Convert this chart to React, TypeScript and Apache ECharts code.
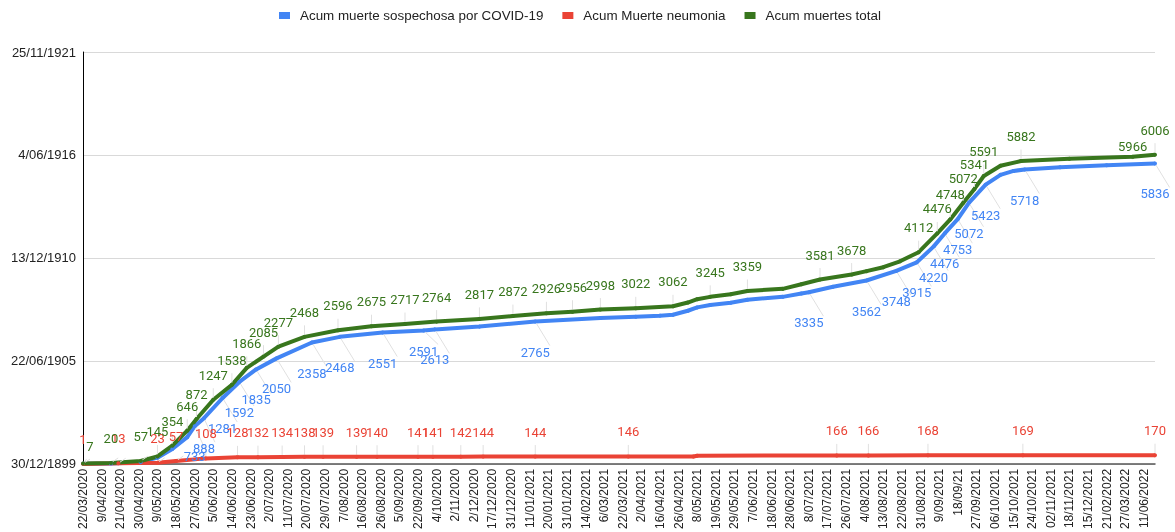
import React, { useEffect, useRef } from 'react';
import * as echarts from 'echarts';

// X axis category labels (shown at integer positions 0..57)
const xLabels = [
  '22/03/2020', '9/04/2020', '21/04/2020', '30/04/2020', '9/05/2020', '18/05/2020', '27/05/2020',
  '5/06/2020', '14/06/2020', '23/06/2020', '2/07/2020', '11/07/2020', '20/07/2020', '29/07/2020',
  '7/08/2020', '16/08/2020', '26/08/2020', '5/09/2020', '22/09/2020', '4/10/2020', '2/11/2020',
  '2/12/2020', '17/12/2020', '31/12/2020', '11/01/2021', '20/01/2021', '31/01/2021', '14/02/2021',
  '6/03/2021', '22/03/2021', '2/04/2021', '16/04/2021', '26/04/2021', '8/05/2021', '19/05/2021',
  '29/05/2021', '7/06/2021', '18/06/2021', '28/06/2021', '8/07/2021', '17/07/2021', '26/07/2021',
  '4/08/2021', '13/08/2021', '22/08/2021', '31/08/2021', '9/09/2021', '18/09/21', '27/09/2021',
  '06/10/2021', '15/10/2021', '24/10/2021', '02/11/2021', '18/11/2021', '15/12/2021', '21/02/2022',
  '27/03/2022', '11/06/2022',
];

// Y axis ticks (spreadsheet serial values shown as dates)
const yTicks = [0, 2000, 4000, 6000, 8000];
const yLabels = ['30/12/1899', '22/06/1905', '13/12/1910', '4/06/1916', '25/11/1921'];

const seriesNames = ['Acum muerte sospechosa por COVID-19', 'Acum Muerte neumonia', 'Acum muertes total'];

// Acum muerte sospechosa por COVID-19
const covidPos = [0, 1.5, 3.1, 4.0, 4.8, 5.6, 6.0, 6.5, 7.5, 8.4, 9.3, 10.4, 12.3, 13.8, 16.1, 18.3, 18.9, 21.3, 24.3, 27.8, 29.7, 31.0, 31.7, 32.5, 33.0, 33.7, 34.8, 35.7, 37.6, 38.6, 39.0, 40.3, 42.1, 43.7, 44.8, 45.7, 46.3, 47.0, 47.6, 48.5, 49.3, 50.0, 50.6, 52.5, 55.0, 57.6];
const covidVals = [6, 8, 35, 122, 290, 520, 733, 888, 1281, 1592, 1835, 2050, 2358, 2468, 2551, 2591, 2613, 2667, 2765, 2835, 2860, 2880, 2898, 2975, 3040, 3085, 3130, 3190, 3245, 3310, 3335, 3440, 3562, 3748, 3915, 4220, 4476, 4753, 5072, 5423, 5615, 5690, 5718, 5760, 5800, 5836];
const covidLabeled = [0, 0, 0, 0, 0, 0, 1, 1, 1, 1, 1, 1, 1, 1, 1, 1, 1, 0, 1, 0, 0, 0, 0, 0, 0, 0, 0, 0, 0, 0, 1, 0, 1, 1, 1, 1, 1, 1, 1, 1, 0, 0, 1, 0, 0, 1];

// Acum Muerte neumonia
const neumoPos = [0, 1.9, 4.0, 5.0, 6.6, 8.3, 9.4, 10.7, 11.9, 12.9, 14.7, 15.8, 18.0, 18.8, 20.3, 21.5, 24.3, 29.3, 32.8, 33.0, 40.5, 42.2, 45.4, 50.5, 57.6];
const neumoVals = [1, 13, 23, 57, 108, 128, 132, 134, 138, 139, 139, 140, 141, 141, 142, 144, 144, 146, 146, 160, 166, 166, 168, 169, 170];
const neumoLabeled = [1, 1, 1, 1, 1, 1, 1, 1, 1, 1, 1, 1, 1, 1, 1, 1, 1, 1, 0, 0, 1, 1, 1, 1, 1];

// Acum muertes total
const totalPos = [0, 1.5, 3.1, 4.0, 4.8, 5.6, 6.1, 7.0, 8.0, 8.8, 9.7, 10.5, 11.9, 13.7, 15.5, 17.3, 19.0, 21.3, 23.1, 24.9, 26.3, 27.8, 29.7, 31.7, 32.5, 33.0, 33.7, 34.8, 35.7, 37.6, 38.6, 39.6, 41.3, 42.1, 43.0, 43.9, 44.9, 45.9, 46.6, 47.3, 47.9, 48.4, 49.3, 50.4, 53.0, 56.4, 57.6];
const totalVals = [7, 20, 57, 145, 354, 646, 872, 1247, 1538, 1866, 2085, 2277, 2468, 2596, 2675, 2717, 2764, 2817, 2872, 2926, 2956, 2998, 3022, 3062, 3135, 3199, 3245, 3295, 3359, 3400, 3490, 3581, 3678, 3744, 3821, 3936, 4112, 4476, 4748, 5072, 5341, 5591, 5790, 5882, 5925, 5966, 6006];
const totalLabeled = [1, 1, 1, 1, 1, 1, 1, 1, 1, 1, 1, 1, 1, 1, 1, 1, 1, 1, 1, 1, 1, 1, 1, 1, 0, 0, 1, 0, 1, 0, 0, 1, 1, 0, 0, 0, 1, 1, 1, 1, 1, 1, 0, 1, 0, 1, 1];

// per-point label placement tweaks (style only)
const covidLabelTweaks: Record<number, any> = { 15: { distance: 12 } };
const totalLabelTweaks: Record<number, any> = { 0: { distance: 9, offset: [7, 0] }, 45: { distance: 2 } };

const BLUE = '#4285f4';
const RED = '#ea4335';
const GREEN = '#38761d';

function buildData(pos: number[], vals: number[], flags: number[], tweaks: Record<number, any>) {
  return pos.map((p, i) => {
    const item: any = { value: [p, vals[i]] };
    if (flags[i]) {
      item.label = { show: true, ...(tweaks[i] || {}) };
      item.labelLine = { show: true };
    }
    return item;
  });
}

export default function App() {
  const ref = useRef<HTMLDivElement>(null);
  useEffect(() => {
    const chart = echarts.init(ref.current!, null, { renderer: 'svg' });
    const labelBase = {
      fontFamily: 'Roboto',
      fontSize: 13,
      formatter: (p: any) => String(p.value[1]),
    };
    const lineLabelLine = { show: false, length2: 0, lineStyle: { color: '#e0e0e0', width: 1 } };
    const mkSeries = (name: string, color: string, data: any[], position: string, distance: number) => ({
      name,
      type: 'line',
      data,
      showSymbol: true,
      symbol: 'circle',
      symbolSize: 4,
      itemStyle: { color },
      lineStyle: { color, width: 4, join: 'round' },
      label: { show: false, position, distance, color, ...labelBase },
      labelLine: lineLabelLine,
      emphasis: { disabled: true },
      z: 2,
    });
    chart.setOption({
      animation: false,
      textStyle: { fontFamily: 'Arial' },
      legend: {
        top: 9,
        left: 279,
        padding: 0,
        itemWidth: 11,
        itemHeight: 7,
        itemGap: 19,
        icon: 'rect',
        textStyle: { fontFamily: 'Arial', fontSize: 13.4, color: '#222', padding: [0, 0, 0, 5] },
        data: seriesNames,
      },
      grid: { left: 83, right: 20, top: 52, bottom: 64 },
      xAxis: {
        type: 'value',
        min: 0,
        max: 57.6,
        interval: 1,
        axisLine: { show: true, onZero: false, lineStyle: { color: '#555', width: 1.5 } },
        axisTick: { show: false },
        splitLine: { show: false },
        axisLabel: {
          rotate: 90,
          margin: 5,
          fontFamily: 'Arial',
          fontSize: 12,
          color: '#222',
          showMaxLabel: false,
          formatter: (v: number) => (Number.isInteger(v) && xLabels[v] != null ? xLabels[v] : ''),
        },
      },
      yAxis: {
        type: 'value',
        min: 0,
        max: 8000,
        interval: 2000,
        axisLine: { show: true, lineStyle: { color: '#000', width: 1 } },
        axisTick: { show: false },
        splitLine: { show: true, lineStyle: { color: '#d9d9d9', width: 1 } },
        axisLabel: {
          margin: 7,
          fontFamily: 'Arial',
          fontSize: 13,
          color: '#222',
          formatter: (v: number) => {
            const i = yTicks.indexOf(v);
            return i >= 0 ? yLabels[i] : '';
          },
        },
      },
      series: [
        mkSeries(seriesNames[0], BLUE, buildData(covidPos, covidVals, covidLabeled, covidLabelTweaks), 'bottom', 22),
        mkSeries(seriesNames[1], RED, buildData(neumoPos, neumoVals, neumoLabeled, {}), 'top', 16),
        mkSeries(seriesNames[2], GREEN, buildData(totalPos, totalVals, totalLabeled, totalLabelTweaks), 'top', 16),
      ],
    });
    return () => chart.dispose();
  }, []);
  return <div ref={ref} style={{ position: 'fixed', left: 0, top: 0, width: 1175, height: 532 }} />;
}
